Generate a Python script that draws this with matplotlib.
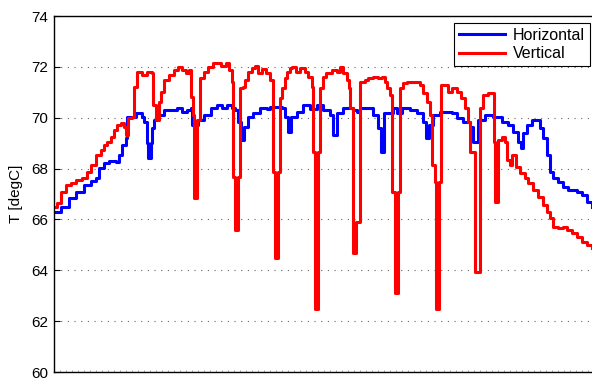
import numpy as np
import matplotlib
matplotlib.use('Agg')
import matplotlib.pyplot as plt

plt.rcParams['font.family'] = ['Liberation Sans', 'DejaVu Sans']

# (time, temperature) steps; time units are arbitrary
horizontal = [
    (0, 66.29), (7, 66.49), (15, 66.84), (22, 67.08), (30, 67.35), (37, 67.51),
    (42, 67.63), (45, 68.02), (50, 68.22), (55, 68.30), (62, 68.26), (65, 68.53),
    (68, 68.93), (72, 69.20), (73, 70.03), (82, 70.19), (88, 70.03), (90, 69.83),
    (93, 69.01), (94, 68.42), (97, 69.01), (98, 69.60), (100, 69.91), (103, 70.11),
    (110, 70.30), (123, 70.38), (128, 70.22), (133, 70.30), (137, 70.38),
    (138, 69.71), (144, 69.91), (150, 70.11), (157, 70.38), (163, 70.50),
    (168, 70.38), (173, 70.50), (178, 70.38), (181, 70.30), (184, 69.83),
    (187, 69.12), (190, 69.64), (194, 70.03), (199, 70.19), (206, 70.38),
    (213, 70.34), (216, 70.42), (228, 70.38), (231, 70.03), (234, 69.44),
    (237, 70.03), (243, 70.22), (249, 70.50), (256, 70.34), (263, 70.50),
    (269, 70.30), (276, 70.11), (279, 69.32), (283, 70.19), (289, 70.38),
    (299, 70.30), (303, 70.22), (306, 70.38), (319, 70.11), (324, 69.60),
    (327, 68.65), (330, 70.19), (339, 70.38), (343, 70.19), (348, 70.38),
    (356, 70.30), (363, 70.19), (369, 69.83), (372, 69.20), (375, 69.71),
    (379, 70.11), (386, 70.22), (398, 70.19), (403, 69.99), (409, 69.83),
    (416, 69.64), (419, 69.05), (424, 69.91), (431, 70.11), (439, 70.03),
    (448, 69.83), (454, 69.71), (459, 69.44), (464, 69.05), (467, 68.81),
    (469, 69.40), (473, 69.71), (478, 69.91), (486, 69.60), (489, 69.20),
    (493, 68.53), (496, 67.87), (499, 67.63), (504, 67.47), (509, 67.28),
    (514, 67.16), (523, 67.08), (528, 66.96), (533, 66.69), (538, 66.49),
]

vertical = [
    (0, 66.49), (3, 66.65), (7, 67.08), (12, 67.35), (17, 67.43), (22, 67.55),
    (28, 67.63), (33, 67.87), (37, 68.14), (42, 68.53), (47, 68.73), (50, 68.93),
    (53, 69.05), (57, 69.24), (60, 69.52), (63, 69.71), (67, 69.79), (70, 69.64),
    (72, 69.32), (74, 69.99), (78, 70.03), (80, 71.21), (83, 71.80), (88, 71.68),
    (93, 71.80), (98, 71.76), (99, 70.50), (102, 69.91), (105, 70.62),
    (107, 71.01), (110, 71.48), (115, 71.68), (120, 71.88), (124, 71.99),
    (128, 71.88), (132, 71.76), (135, 71.88), (137, 70.81), (139, 70.11),
    (140, 66.84), (143, 69.91), (146, 71.56), (150, 71.80), (154, 71.99),
    (159, 72.15), (167, 72.03), (172, 72.15), (175, 71.88), (178, 71.40),
    (179, 67.67), (181, 65.58), (184, 67.67), (186, 71.17), (189, 71.21),
    (191, 71.48), (194, 71.80), (198, 71.96), (201, 72.03), (204, 71.76),
    (208, 71.92), (212, 71.76), (216, 71.48), (219, 67.87), (221, 64.48),
    (224, 67.87), (226, 70.78), (228, 71.17), (231, 71.56), (233, 71.80),
    (236, 71.96), (238, 71.99), (242, 71.80), (246, 71.96), (251, 71.80),
    (254, 71.60), (258, 71.21), (259, 68.65), (261, 62.48), (264, 68.65),
    (266, 71.17), (269, 71.60), (272, 71.76), (278, 71.88), (283, 71.80),
    (286, 71.99), (289, 71.76), (293, 71.48), (295, 71.17), (296, 70.38),
    (299, 64.68), (302, 65.90), (306, 71.40), (311, 71.48), (314, 71.56),
    (319, 71.60), (324, 71.56), (328, 71.60), (331, 71.40), (333, 71.17),
    (336, 70.89), (338, 67.08), (341, 63.11), (344, 67.08), (346, 71.17),
    (349, 71.37), (353, 71.40), (361, 71.40), (366, 71.29), (369, 70.97),
    (373, 70.62), (376, 70.11), (378, 68.14), (381, 67.47), (382, 62.48),
    (385, 67.47), (387, 71.29), (394, 71.01), (398, 71.17), (403, 71.01),
    (407, 70.78), (411, 70.38), (414, 69.83), (416, 68.65), (421, 63.93),
    (426, 70.38), (429, 70.89), (434, 70.97), (440, 69.05), (441, 66.69),
    (444, 69.12), (448, 69.24), (451, 69.05), (453, 68.34), (456, 68.14),
    (458, 68.53), (462, 68.06), (466, 67.83), (471, 67.63), (474, 67.43),
    (479, 67.16), (484, 66.88), (489, 66.57), (493, 66.29), (496, 66.06),
    (499, 65.70), (504, 65.66), (509, 65.70), (513, 65.58), (518, 65.47),
    (523, 65.31), (528, 65.11), (533, 64.99), (538, 64.88),
]

y_ticks = [60, 62, 64, 66, 68, 70, 72, 74]

horiz_t, horiz_T = zip(*horizontal)
vert_t, vert_T = zip(*vertical)

fig = plt.figure(figsize=(5.92, 3.81), dpi=100)
ax = fig.add_axes([54 / 592, 9 / 381, 560 / 592, 356 / 381])

ax.plot(horiz_t, horiz_T, drawstyle='steps-post', color=(0, 0, 1), lw=2.2,
        label='Horizontal')
ax.plot(vert_t, vert_T, drawstyle='steps-post', color=(1, 0, 0), lw=2.2,
        label='Vertical')

ax.set_xlim(0, 560)
ax.set_ylim(60, 74)
ax.set_yticks(y_ticks)
ax.set_xticks(np.arange(0, 560, 6))
ax.set_xticklabels([])
ax.tick_params(axis='x', direction='in', length=1.5, width=0.5, color='#888888')
ax.tick_params(axis='y', direction='in', length=4, labelsize=11, pad=4)
ax.grid(axis='y', linestyle=(0, (1, 5)), color='#666666', lw=0.8)
ax.set_ylabel('T [degC]', fontsize=11, labelpad=6)

for s in ax.spines.values():
    s.set_linewidth(1.0)

leg = ax.legend(loc='upper right', bbox_to_anchor=(536 / 560, 0.98),
                fontsize=11.5, handlelength=2.9, fancybox=False, framealpha=1,
                edgecolor='black', borderpad=0.3, labelspacing=0.2,
                handletextpad=0.5, borderaxespad=0)
leg.get_frame().set_linewidth(0.8)

fig.savefig('out.png', dpi=100)
